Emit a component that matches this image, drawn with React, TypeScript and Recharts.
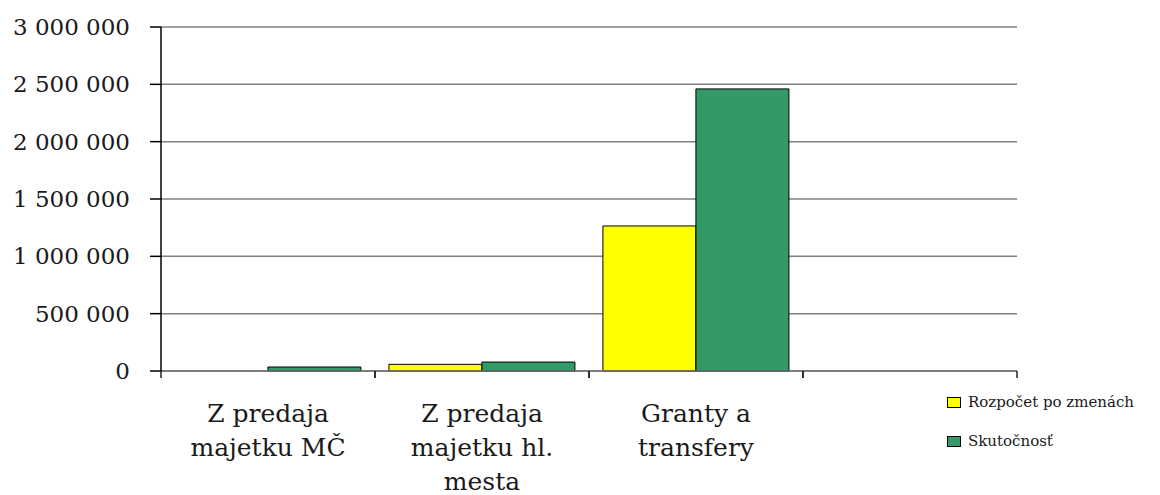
import { BarChart, Bar, XAxis, YAxis, CartesianGrid } from 'recharts';

const categories = [
  'Z predaja\nmajetku MČ',
  'Z predaja\nmajetku hl.\nmesta',
  'Granty a\ntransfery',
  '',
];
const rozpocet = [0, 58000, 1265000, 0];
const skutocnost = [35000, 78000, 2460000, 0];
const yTicks = [0, 500000, 1000000, 1500000, 2000000, 2500000, 3000000];

const seriesNames = ['Rozpočet po zmenách', 'Skutočnosť'];
const seriesColors = ['#ffff00', '#339966'];

const data = categories.map((name, i) => ({
  name,
  rozpocet: rozpocet[i],
  skutocnost: skutocnost[i],
}));

const FONT = "'DejaVu Serif', serif";

const fmt = (v: number) => String(v).replace(/\B(?=(\d{3})+(?!\d))/g, ' ');

function CategoryTick(props: any) {
  const { x, y, payload, width, visibleTicksCount } = props;
  const half = width && visibleTicksCount ? width / visibleTicksCount / 2 : 107;
  const lines = String(payload.value).split('\n').filter((l) => l.length);
  return (
    <g>
      <line x1={x - half} x2={x - half} y1={y} y2={y + 7} stroke="#222" strokeWidth={1.5} />
      <line x1={x + half} x2={x + half} y1={y} y2={y + 7} stroke="#222" strokeWidth={1.5} />
      <text x={x} y={y + 51} textAnchor="middle" style={{ fontFamily: FONT }} fontSize={25} fill="#1a1a1a">
        {lines.map((l, i) => (
          <tspan key={i} x={x} dy={i === 0 ? 0 : 34}>
            {l}
          </tspan>
        ))}
      </text>
    </g>
  );
}

function ValueTick(props: any) {
  const { x, y, payload } = props;
  return (
    <text x={x} y={y} dy={8} textAnchor="end" style={{ fontFamily: FONT }} fontSize={23} fill="#1a1a1a">
      {fmt(payload.value)}
    </text>
  );
}

export default function App() {
  return (
    <div style={{ position: 'absolute', left: 0, top: 0, width: 1160, height: 495, background: '#fff', fontFamily: FONT }}>
      <BarChart
        width={1160}
        height={495}
        data={data}
        margin={{ top: 27, right: 143, bottom: 0, left: 0 }}
        barCategoryGap="6.5%"
        barGap={0}
      >
        <CartesianGrid vertical={false} stroke="#808080" strokeWidth={1.5} />
        <XAxis
          dataKey="name"
          height={124}
          interval={0}
          tickLine={false}
          tickSize={0}
          tickMargin={0}
          axisLine={{ stroke: '#707070', strokeWidth: 1.5 }}
          tick={<CategoryTick />}
        />
        <YAxis
          width={161}
          domain={[0, 3000000]}
          ticks={yTicks}
          interval={0}
          tickSize={11}
          tickMargin={20}
          axisLine={{ stroke: '#000', strokeWidth: 1.5 }}
          tickLine={{ stroke: '#000', strokeWidth: 1.5 }}
          tick={<ValueTick />}
        />
        <Bar dataKey="rozpocet" name={seriesNames[0]} fill={seriesColors[0]} stroke="#000" strokeWidth={1} isAnimationActive={false} />
        <Bar dataKey="skutocnost" name={seriesNames[1]} fill={seriesColors[1]} stroke="#000" strokeWidth={1} isAnimationActive={false} />
      </BarChart>
      {seriesNames.map((n, i) => (
        <div
          key={n}
          style={{
            position: 'absolute',
            left: 947,
            top: 393 + i * 39,
            display: 'flex',
            alignItems: 'center',
            fontSize: 15,
            color: '#1a1a1a',
            whiteSpace: 'nowrap',
          }}
        >
          <span
            style={{
              display: 'inline-block',
              width: 12,
              height: 9,
              background: seriesColors[i],
              border: '1px solid #000',
              marginRight: 7,
            }}
          />
          {n}
        </div>
      ))}
    </div>
  );
}
